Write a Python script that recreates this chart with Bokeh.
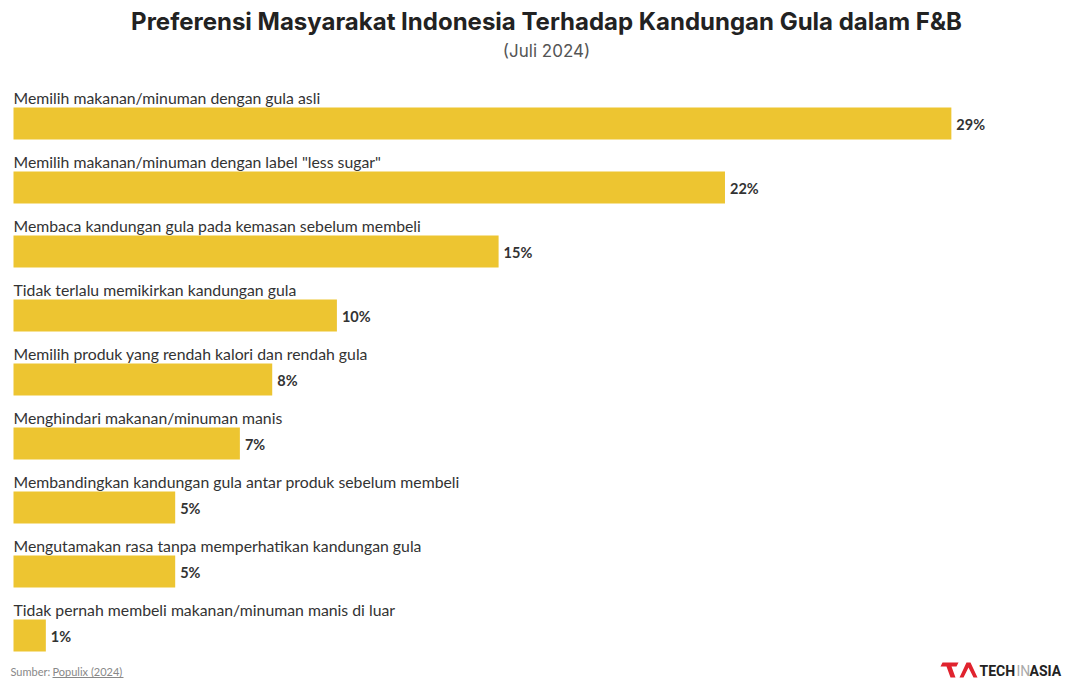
from bokeh.plotting import figure
from bokeh.models import Range1d, ColumnDataSource
from bokeh.core.properties import value
from bokeh.embed import file_html
from bokeh.resources import INLINE

# ---------------- data ----------------
categories = [
    "Memilih makanan/minuman dengan gula asli",
    'Memilih makanan/minuman dengan label "less sugar"',
    "Membaca kandungan gula pada kemasan sebelum membeli",
    "Tidak terlalu memikirkan kandungan gula",
    "Memilih produk yang rendah kalori dan rendah gula",
    "Menghindari makanan/minuman manis",
    "Membandingkan kandungan gula antar produk sebelum membeli",
    "Mengutamakan rasa tanpa memperhatikan kandungan gula",
    "Tidak pernah membeli makanan/minuman manis di luar",
]
values = [29, 22, 15, 10, 8, 7, 5, 5, 1]
value_labels = ["29%", "22%", "15%", "10%", "8%", "7%", "5%", "5%", "1%"]

title = "Preferensi Masyarakat Indonesia Terhadap Kandungan Gula dalam F&B"
subtitle = "(Juli 2024)"
source_prefix = "Sumber: "
source_name = "Populix (2024)"

# ---------------- layout ----------------
W, H = 1072, 679
PX_PER_PCT = 32.34          # pixels per percentage point
X0_PX = 13                  # pixel where 0% sits
PITCH = 64                  # pixels between bars
Y0_PX = 123                 # pixel centre of first bar

x_start = -X0_PX / PX_PER_PCT
x_end = x_start + W / PX_PER_PCT
y_top = -Y0_PX / PITCH
y_bottom = (H - Y0_PX) / PITCH


def px_x(px):
    return x_start + px / PX_PER_PCT


def px_y(py):
    return y_top + py / PITCH


p = figure(width=W, height=H, output_backend="svg", toolbar_location=None,
           x_range=Range1d(x_start, x_end), y_range=Range1d(y_bottom, y_top),
           min_border=0, outline_line_color=None, background_fill_color="white",
           border_fill_color="white")
p.axis.visible = False
p.grid.visible = False

idx = list(range(len(categories)))
src = ColumnDataSource(dict(y=idx, v=values, cat=categories, lab=value_labels,
                            zero=[0] * len(values)))

p.hbar(y="y", left="zero", right="v", height=0.5, source=src,
       fill_color="#EDC531", line_color=None)

p.text(x="zero", y="y", text="cat", source=src, y_offset=-26,
       text_font=value("Lato"), text_font_size="15.8px", text_color="#333333",
       text_baseline="alphabetic", text_align="left")

p.text(x="v", y="y", text="lab", source=src, x_offset=5, y_offset=1,
       text_font=value("Lato"), text_font_size="14.5px", text_font_style="bold",
       text_color="#333333", text_baseline="middle", text_align="left")

# title & subtitle
p.text(x=[px_x(546)], y=[px_y(21)], text=[title], text_font=value("Inter"),
       text_font_size="24px", text_font_style="bold", text_color="#222222",
       text_align="center", text_baseline="middle")
p.text(x=[px_x(546)], y=[px_y(50)], text=[subtitle], text_font=value("Inter"),
       text_font_size="17px", text_color="#555555",
       text_align="center", text_baseline="middle")

# footer
p.text(x=[px_x(10)], y=[px_y(671)], text=[source_prefix], text_font=value("Lato"),
       text_font_size="11px", text_color="#888888", text_baseline="middle")
p.text(x=[px_x(52)], y=[px_y(671)], text=[source_name], text_font=value("Lato"),
       text_font_size="11px", text_color="#888888", text_baseline="middle")
p.segment(x0=[px_x(52)], x1=[px_x(123)], y0=[px_y(677)], y1=[px_y(677)],
          line_color="#888888", line_width=1)

# logo
lx, ly = 942, 662
t_shape = [(0, 0), (16, 0), (14, 4), (9, 4), (13, 15), (8, 15), (4, 4), (-2, 4)]
a_shape = [(17, 15), (24, 0), (28, 0), (35, 15), (31, 15), (26, 5), (21, 15)]
p.patches(xs=[[px_x(lx + a) for a, b in t_shape], [px_x(lx + a) for a, b in a_shape]],
          ys=[[px_y(ly + b) for a, b in t_shape], [px_y(ly + b) for a, b in a_shape]],
          fill_color="#E0232E", line_color=None)
p.text(x=[px_x(lx + 37)], y=[px_y(ly + 8)], text=["TECH"], text_font=value("Roboto"),
       text_font_size="14px", text_font_style="bold", text_color="#222222",
       text_baseline="middle")
p.text(x=[px_x(lx + 74)], y=[px_y(ly + 8)], text=["IN"], text_font=value("Roboto"),
       text_font_size="14px", text_color="#AAAAAA", text_baseline="middle")
p.text(x=[px_x(lx + 87)], y=[px_y(ly + 8)], text=["ASIA"], text_font=value("Roboto"),
       text_font_size="14px", text_font_style="bold", text_color="#222222",
       text_baseline="middle")

open("out.html", "w").write(file_html(p, INLINE))
